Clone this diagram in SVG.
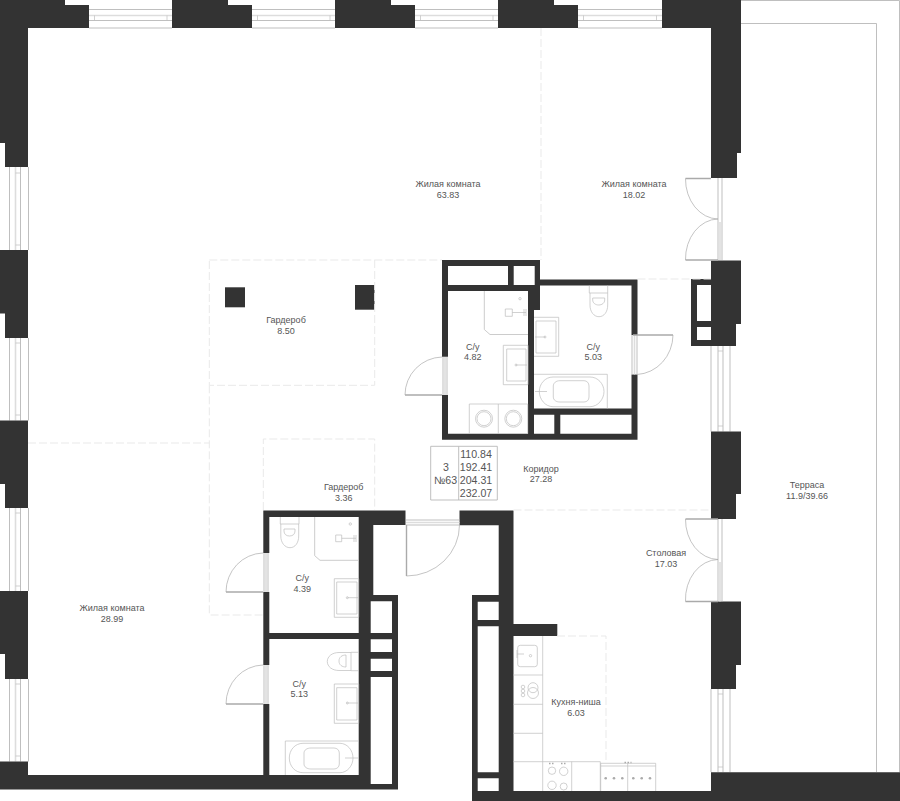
<svg xmlns="http://www.w3.org/2000/svg" width="900" height="801" viewBox="0 0 900 801">
<style>
text{font-family:"Liberation Sans",Arial,sans-serif;fill:#555;font-size:9px;text-anchor:middle}
.t text{font-size:10.6px}
.w{fill:#333;stroke:none}
.f{fill:none;stroke:#bdbdbd;stroke-width:.7}
.l{fill:none;stroke:#b8b8b8;stroke-width:.9}
.b{fill:none;stroke:#ddd;stroke-width:1.6}
.d{fill:none;stroke:#e9e9e9;stroke-width:1;stroke-dasharray:8 3}
.a{fill:none;stroke:#aaa;stroke-width:.7}
.s{fill:none;stroke:#aaa;stroke-width:1.4}
.h{fill:#fff;stroke:none}
</style>
<rect width="900" height="801" fill="#fff"/>
<g id="terrace">
<path class="l" d="M741 .5H899.5V772M741 23.5H876.500V772"/>
</g>
<g id="windows">
<path class="l" d="M89 9.500H172M89 20.500H172M89 28H172M252 9.500H335M252 20.500H335M252 28H335M415 9.500H498M415 20.500H498M415 28H498M578 9.500H662M578 20.500H662M578 28H662"/>
<path class="b" d="M89 15.500H172M252 15.500H335M415 15.500H498M578 15.500H662"/>
<path class="f" d="M94.500 15.500V20.500M167 15.500V20.500M257.500 15.500V20.500M330 15.500V20.500M420.500 15.500V20.500M493 15.500V20.500M583.500 15.500V20.500M656.500 15.500V20.500"/>
<path class="l" d="M9.500 167V250M20.500 167V250M28.500 167V250M9.500 338V420.500M20.500 338V420.500M28.500 338V420.500M9.500 508V591M20.500 508V591M28.500 508V591M9.500 679V761.500M20.500 679V761.500M28.500 679V761.500"/>
<path class="b" d="M15.500 167V250M15.500 338V420.500M15.500 508V591M15.500 679V761.500"/>
<path class="f" d="M15.500 173H20.500M15.500 245H20.500M15.500 343H20.500M15.500 415H20.500M15.500 513H20.500M15.500 586H20.500M15.500 684H20.500M15.500 756H20.500"/>
<path class="l" d="M711 346V431.500M718 346V431.500M723 346V431.500M730 346V431.500M711 689V772M718 689V772M723 689V772M730 689V772"/>
<path class="f" d="M718 351H723M718 426H723M718 694H723M718 767H723"/>
</g>
<g id="walls">
<path class="w" d="M0 0H65V5H89V28H28V167H5V143H0Z"/>
<path class="w" d="M172 0H228V5H252V28H172ZM335 0H391V5H415V28H335ZM498 0H554V5H578V28H498Z"/>
<path class="w" d="M662 0H741V153H737V178H711V28H662Z"/>
<path class="w" d="M711 260.500H741V324H736V346H691V279H711Z"/>
<path class="h" d="M697 285H711V321H697ZM697 327H711V340H697Z"/>
<path class="w" d="M0 250H28V338H5V313.500H0ZM0 420.500H28V508H5V484H0ZM0 591H28V679H5V654H0Z"/>
<path class="w" d="M711 431.500H741V494H736V519H711ZM711 601.500H741V665H736V689H711Z"/>
<path class="w" d="M0 761.500H28V775H263.300V704H269.300V775H358.700V639H269.300V665H263.300V592H269.300V633H358.700V517H269.300V553H263.300V510.500H405.500V525H373.300V595H398V789.500H0Z"/>
<path class="h" d="M370.700 601.300H392V633H370.700ZM370.700 639.300H392V652H370.700ZM370.700 658.700H392V671H370.700ZM370.700 677H392V784H370.700Z"/>
<path class="w" d="M459.500 510.500H513.500V791H711V772.300H900V801H472V595H498.700V525.300H459.500Z"/>
<rect class="w" x="513" y="624" width="44.300" height="12"/>
<path class="h" d="M477.700 601.700H498.700V620H477.700ZM477.700 626.300H498.700V772.300H477.700ZM477.700 778.300H498.700V791H477.700Z"/>
<path class="w" d="M442 260H540V279.500H637.500V335H631.500V285.500H540V310H534V408.500H631.500V374.500H637.500V439.700H442V395H448V433.700H528V291H448V356.700H442Z"/>
<path class="h" d="M448 266H508V285H448ZM513.700 266H534.700V285H513.700ZM534 414.700H554.300V433.700H534ZM560.300 414.700H631.500V433.700H560.300Z"/>
<rect class="w" x="225" y="287.300" width="20" height="20"/>
<rect class="w" x="355" y="285" width="19.500" height="24.700"/>
</g>
<g id="zones">
<path class="d" d="M541 28V260M637.500 279H711M209.300 260H442M374.700 260V385.300H209.300V260M209.300 385.300V615H263M28 443H209.300M263.300 510V439H374.700V510M513.500 510H711M557 636H606V763"/>
</g>
<g id="doors">
<path class="l" d="M718 178V260M722 178V260M718 519V601.500M722 519V601.500"/>
<path class="b" d="M720 222V260M720 562V601.500"/>
<path class="s" d="M685.500 178.500H711M685.500 260H718M685.500 519H718M685.500 601.500H718"/>
<path class="a" d="M685.500 178.500A33 40 0 0 0 718 219M685.500 260A33 40 0 0 1 718 219M685.500 519A33 40 0 0 0 718 559.500M685.500 601.500A33 40 0 0 1 718 559.500"/>
<path class="l" d="M443 357V395M447 357V395M632 335V374.500M637 335V374.500M264 553V592M268 553V592M264 665V704M268 665V704M406 520H459.500M406 525H459.500"/>
<path class="b" d="M445 357V395M634.500 335V374.500M266 553V592M266 665V704M406 522.500H459.500"/>
<path class="s" d="M405 395H442M633 335H673M226 592H263M226 704H263M406.500 525V576"/>
<path class="a" d="M405 395A38 38 0 0 1 442 357M673 335A38 40 0 0 1 637 374.500M226 592A38 39 0 0 1 263 553M226 704A38 39 0 0 1 263 665M406.500 576A53 51 0 0 0 459.500 525"/>
</g>
<g id="fixtures">
<path class="b" style="stroke-width:.9;stroke:#c6c6c6" d="M484.300 291V329.500L490 334.500H528M314.700 517V555.700L320 560.300H358.700"/>
<circle class="f" cx="520" cy="298.700" r="1.200"/><circle class="f" cx="350.300" cy="524" r="1.200"/>
<path class="f" d="M505.300 309H512.300V316.300H505.300ZM512.300 312.500H526M524 309V316M526 309V316M335.700 535H341.700V541.700H335.700ZM341.700 538.300H356M354 535V542M356 535V542"/>
<path class="f" d="M503.300 345.300H528V384.700H503.300ZM506.700 349H526V381H506.700ZM516 365H527"/><circle class="f" cx="516" cy="365" r="1"/>
<path class="f" d="M469.300 404H527.700V433.700M469.300 404V433.700M498.300 404V433.700"/>
<circle class="f" cx="484" cy="418.700" r="8.500"/><circle class="f" cx="484" cy="418.700" r="7"/><circle class="f" cx="513.300" cy="418.700" r="8.500"/><circle class="f" cx="513.300" cy="418.700" r="7"/>
<path class="f" d="M589.300 285.500V293H607.700V285.500M590 293V305C590 312 594 316.700 599 316.700S607.700 312 607.700 305V293M592.700 298H604.700V300C604.700 303 602 305 598.700 305S592.700 303 592.700 300Z"/>
<path class="f" d="M534 317.300H558.700V356.300H534M536 321H556V353H536ZM535 337H545"/><circle class="f" cx="545" cy="337" r="1"/>
<path class="f" d="M534 374.300H607.300V408.500M604 391.500C604 399 598 406.700 590 406.700H553C545 406.700 539.300 399 539.300 391.500S545 377 553 377H590C598 377 604 384 604 391.500ZM560 380.700H584C587 380.700 589 383 589 386V397C589 400 587 402 584 402H560C556 402 553.300 400 553.300 397V386C553.300 383 556 380.700 560 380.700ZM535 391.500H547"/>
<path class="f" d="M280.300 517V524H299V517M280.800 524V536C280.800 543 285 547.700 290 547.700S298.700 543 298.700 536V524M284 529H295V531C295 534 293 536 289.500 536S284 534 284 531Z"/>
<path class="f" d="M334.300 578.700H358.700V617.300H334.300ZM336.700 582H357V614H336.700ZM347.300 597.700H358"/><circle class="f" cx="347.300" cy="597.700" r="1"/>
<path class="f" d="M358.700 652.300H351V670.700H358.700M351 652.500H339C332 652.500 327.300 656.500 327.300 661.500S332 670.500 339 670.500H351M346 655V667C342 667 339 665 339 661S342 655 346 655Z"/>
<path class="f" d="M334.300 684H358.700V723.300H334.300ZM336.700 687.700H357V720H336.700ZM347.300 703H358"/><circle class="f" cx="347.300" cy="703" r="1"/>
<path class="f" d="M358.700 741H285.300V775M353 758C353 766 347 772.700 340 772.700H303C295 772.700 289.300 766 289.300 758S295 743.300 303 743.300H340C347 743.300 353 750 353 758ZM311 748H334C337 748 339.300 750 339.300 753V764C339.300 767 337 769 334 769H311C307 769 304 767 304 764V753C304 750 307 748 311 748ZM345 758H358"/>
<path class="f" d="M513.300 675H542.700M513.300 704.300H542.700M513.300 733.300H542.700M513.300 761.700H600.300V791M542.700 636V791M571.700 761.700V791M600.700 763.300H655.700V791M600.700 766H655.700M600.700 763.300V791M627.700 763.300V791"/>
<rect class="f" x="517.700" y="645.300" width="19.600" height="21.400" rx="2.500"/>
<path class="f" d="M517 654H524M517 650V658"/><circle class="f" cx="530.500" cy="655.700" r="1.200"/>
<circle class="f" cx="533" cy="687.700" r="5"/><circle class="f" cx="533" cy="693" r="5.500"/><circle class="f" cx="523" cy="687" r="1.800"/><circle class="f" cx="523" cy="691" r="1.800"/><circle class="f" cx="523" cy="695" r="1.800"/>
<circle class="f" cx="552" cy="770.700" r="3.700"/><circle class="f" cx="563.700" cy="771.300" r="4.200"/><circle class="f" cx="552" cy="785.300" r="4.200"/><circle class="f" cx="563.700" cy="786.500" r="3.500"/>
<path class="s" stroke-dasharray="1.500 1.500" d="M549 763.500H554M561 763.500H566M624.500 762.500H631.500"/>
<g fill="#aaa"><circle cx="605.700" cy="778.300" r="1.300"/><circle cx="614" cy="778.300" r="1.300"/><circle cx="622.300" cy="778.300" r="1.300"/><circle cx="633.300" cy="778.300" r="1.300"/><circle cx="641.700" cy="778.300" r="1.300"/><circle cx="650" cy="778.300" r="1.300"/></g>
</g>
<g id="table" class="t">
<path class="l" d="M430.700 446.300H497.300V500H430.700ZM458.700 446.300V500"/>
<text x="446" y="470.500">3</text><text x="445.500" y="484">№63</text>
<text x="476" y="458">110.84</text><text x="476" y="471">192.41</text><text x="476" y="484">204.31</text><text x="476" y="497">232.07</text>
</g>
<g id="labels">
<text x="448" y="187">Жилая комната</text><text x="448" y="198">63.83</text>
<text x="634" y="187">Жилая комната</text><text x="634" y="198">18.02</text>
<text x="286" y="323.300">Гардероб</text><text x="286" y="334">8.50</text>
<text x="472.700" y="350">С/у</text><text x="472.700" y="360">4.82</text>
<text x="593.300" y="350">С/у</text><text x="593.300" y="360">5.03</text>
<text x="343.700" y="489.500">Гардероб</text><text x="343.700" y="500.500">3.36</text>
<text x="541" y="472">Коридор</text><text x="541" y="482">27.28</text>
<text x="807" y="488">Терраса</text><text x="807" y="499">11.9/39.66</text>
<text x="666" y="556">Столовая</text><text x="666" y="567">17.03</text>
<text x="302.300" y="581.300">С/у</text><text x="302.300" y="591.700">4.39</text>
<text x="112" y="611">Жилая комната</text><text x="112" y="622">28.99</text>
<text x="299.300" y="686.500">С/у</text><text x="299.300" y="697">5.13</text>
<text x="576" y="705">Кухня-ниша</text><text x="576" y="715.500">6.03</text>
</g>
</svg>
